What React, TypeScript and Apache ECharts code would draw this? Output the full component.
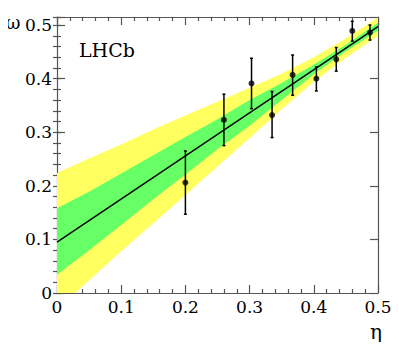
import React, { useEffect, useRef } from "react";
import * as echarts from "echarts";

// Band sample positions (eta) and band edges
const bandX = [0, 0.05, 0.1, 0.15, 0.2, 0.25, 0.3, 0.35, 0.4, 0.45, 0.5];
const yellowUpper = [0.224, 0.251, 0.277, 0.305, 0.331, 0.357, 0.383, 0.409, 0.44, 0.475, 0.514];
const yellowLower = [-0.032, 0.024, 0.078, 0.13, 0.183, 0.236, 0.289, 0.343, 0.394, 0.439, 0.48];
const greenUpper = [0.158, 0.189, 0.223, 0.257, 0.291, 0.324, 0.36, 0.392, 0.426, 0.463, 0.5045];
const greenLower = [0.034, 0.08, 0.127, 0.175, 0.221, 0.268, 0.312, 0.36, 0.408, 0.451, 0.4895];

// Fitted line end points
const fitX = [0, 0.5];
const fitY = [0.095, 0.497];

// Data points
const ptX = [0.2, 0.26, 0.303, 0.335, 0.367, 0.404, 0.435, 0.46, 0.4875];
const ptY = [0.206, 0.323, 0.391, 0.332, 0.407, 0.4, 0.436, 0.489, 0.486];
const ptLow = [0.147, 0.275, 0.344, 0.29, 0.369, 0.377, 0.414, 0.47, 0.472];
const ptHigh = [0.265, 0.371, 0.438, 0.376, 0.444, 0.422, 0.458, 0.507, 0.5];

const FONT = "DejaVu Serif";
const AX = "#555";

function bandSeries(upper: number[], lower: number[], color: string) {
  return {
    type: "custom",
    xAxisIndex: 0,
    yAxisIndex: 0,
    clip: true,
    silent: true,
    data: [0],
    renderItem: (params: any, api: any) => {
      const pts: number[][] = [];
      for (let i = 0; i < bandX.length; i++) pts.push(api.coord([bandX[i], upper[i]]));
      for (let i = bandX.length - 1; i >= 0; i--) pts.push(api.coord([bandX[i], lower[i]]));
      return {
        type: "polygon",
        shape: { points: pts },
        style: { fill: color, stroke: "none" },
      };
    },
  };
}

export default function App() {
  const ref = useRef<HTMLDivElement>(null);
  useEffect(() => {
    if (!ref.current) return;
    const chart = echarts.init(ref.current, undefined, { renderer: "svg" });
    const lineStyle = { color: AX, width: 1.2 };
    const xBase = (pos: "top" | "bottom", labels: boolean) => ({
      type: "value",
      min: 0,
      max: 0.5,
      interval: 0.1,
      position: pos,
      axisLine: { show: true, onZero: false, lineStyle },
      axisTick: { show: true, inside: true, length: 8, lineStyle },
      minorTick: { show: true, splitNumber: 5, length: 4, lineStyle },
      splitLine: { show: false },
      minorSplitLine: { show: false },
      axisLabel: {
        show: labels,
        margin: 5,
        fontFamily: FONT,
        fontSize: 17,
        color: "#000",
      },
    });
    const yMajor = (pos: "left" | "right", labels: boolean) => ({
      type: "value",
      min: 0,
      max: 0.515,
      interval: 0.1,
      position: pos,
      axisLine: { show: true, onZero: false, lineStyle },
      axisTick: { show: true, inside: true, length: 8, lineStyle },
      splitLine: { show: false },
      axisLabel: {
        show: labels,
        margin: 5,
        fontFamily: FONT,
        fontSize: 17,
        color: "#000",
        formatter: (v: number) =>
          Math.abs(v * 10 - Math.round(v * 10)) < 1e-6 ? String(+v.toFixed(1)) : "",
      },
    });
    const yMinor = (pos: "left" | "right") => ({
      type: "value",
      min: 0,
      max: 0.515,
      interval: 0.02,
      position: pos,
      axisLine: { show: false },
      axisTick: { show: true, inside: true, length: 4, lineStyle },
      splitLine: { show: false },
      axisLabel: { show: false },
    });

    chart.setOption({
      animation: false,
      grid: { left: 57, top: 17, width: 321, height: 276, containLabel: false },
      xAxis: [xBase("bottom", true), xBase("top", false)],
      yAxis: [yMajor("left", true), yMinor("left"), yMajor("right", false), yMinor("right")],
      graphic: [
        {
          type: "text",
          x: 13,
          y: 22,
          style: {
            text: "ω",
            fontFamily: FONT,
            fontSize: 18,
            fill: "#000",
            align: "center",
            verticalAlign: "middle",
          },
        },
        {
          type: "text",
          x: 376,
          y: 332,
          style: {
            text: "η",
            fontFamily: FONT,
            fontSize: 20,
            fill: "#000",
            align: "center",
            verticalAlign: "middle",
          },
        },
        {
          type: "text",
          x: 79,
          y: 50,
          style: {
            text: "LHCb",
            fontFamily: FONT,
            fontSize: 19,
            fill: "#000",
            align: "left",
            verticalAlign: "middle",
          },
        },
      ],
      series: [
        bandSeries(yellowUpper, yellowLower, "#ffff60"),
        bandSeries(greenUpper, greenLower, "#66ff66"),
        {
          type: "line",
          xAxisIndex: 0,
          yAxisIndex: 0,
          data: fitX.map((x, i) => [x, fitY[i]]),
          showSymbol: false,
          lineStyle: { color: "#000", width: 1.4 },
          silent: true,
        },
        {
          type: "custom",
          xAxisIndex: 0,
          yAxisIndex: 0,
          data: ptX.map((x, i) => [x, ptLow[i], ptHigh[i]]),
          renderItem: (params: any, api: any) => {
            const lo = api.coord([api.value(0), api.value(1)]);
            const hi = api.coord([api.value(0), api.value(2)]);
            const st = { stroke: "#000", lineWidth: 1.5 };
            return {
              type: "group",
              children: [
                { type: "line", shape: { x1: lo[0], y1: lo[1], x2: hi[0], y2: hi[1] }, style: st },
                { type: "line", shape: { x1: lo[0] - 1.5, y1: lo[1], x2: lo[0] + 1.5, y2: lo[1] }, style: st },
                { type: "line", shape: { x1: hi[0] - 1.5, y1: hi[1], x2: hi[0] + 1.5, y2: hi[1] }, style: st },
              ],
            };
          },
        },
        {
          type: "scatter",
          xAxisIndex: 0,
          yAxisIndex: 0,
          data: ptX.map((x, i) => [x, ptY[i]]),
          symbol: "circle",
          symbolSize: 6,
          itemStyle: { color: "#000" },
        },
      ],
    });
    return () => chart.dispose();
  }, []);
  return <div ref={ref} style={{ width: 399, height: 350, margin: -8 }} />;
}
